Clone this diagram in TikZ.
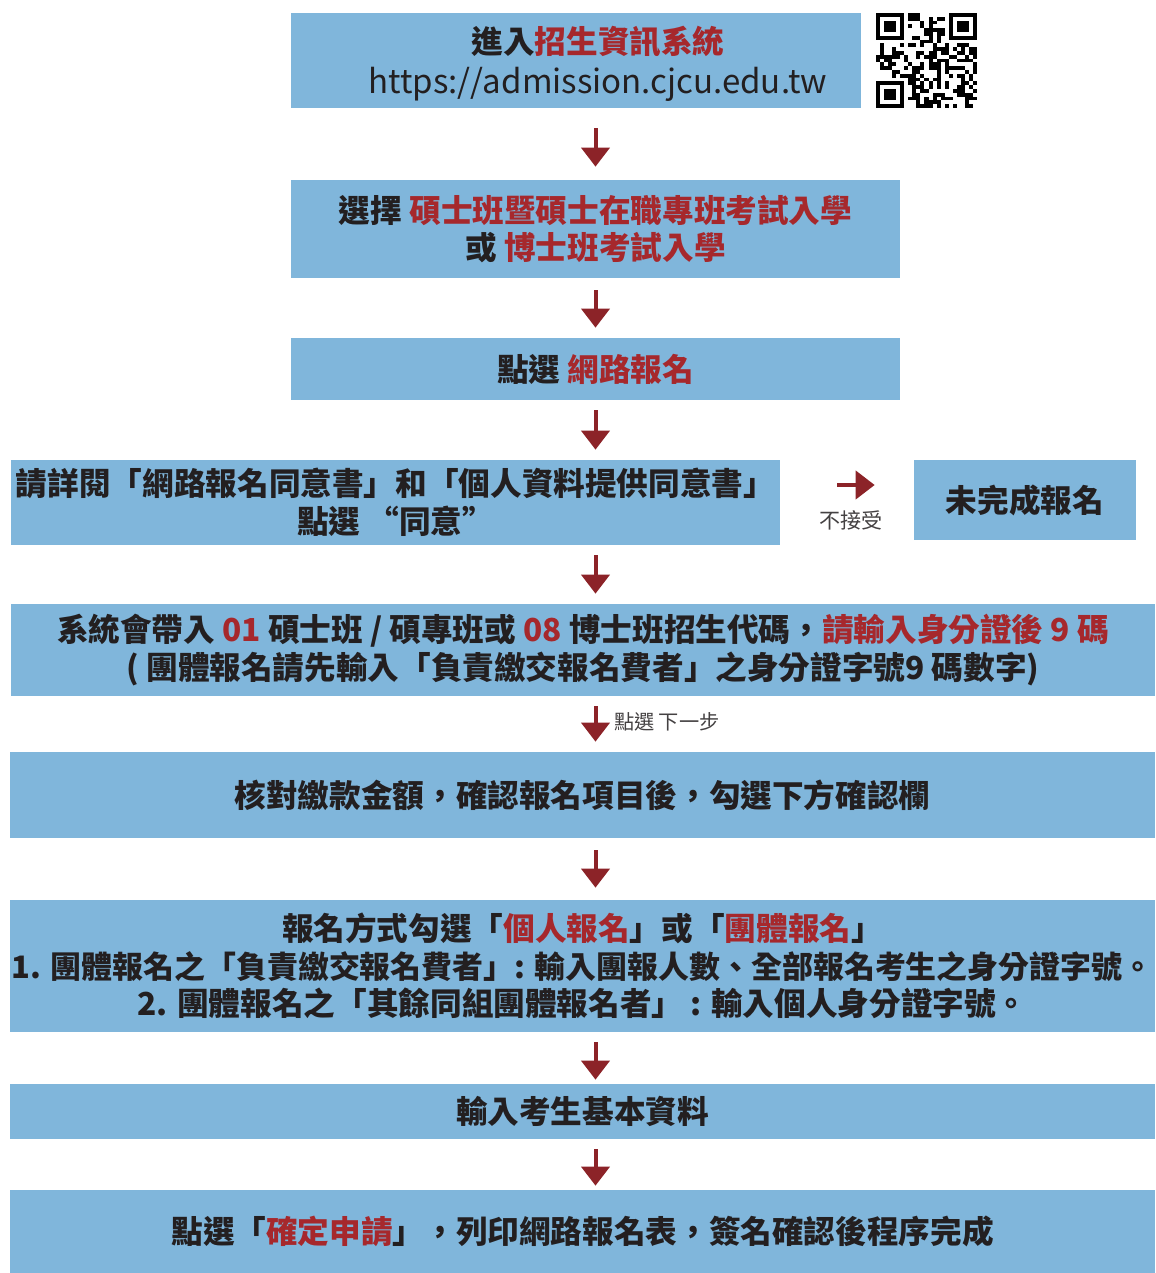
\documentclass[tikz,border=0pt]{standalone}
\usepackage{fontspec}
\setmainfont{Noto Sans CJK TC}
\usetikzlibrary{arrows.meta}

\begin{document}
\begin{tikzpicture}[x = 0.02cm, y = -0.02cm,
  box/.style = {fill = boxblue, inner sep = 0pt, align = center, text = ink, font = \bfseries\fontsize{18}{21.5}\selectfont},
  flow/.style = {draw = arrowred, line width = 0.08cm, -{Triangle[width = 0.56cm, length = 0.38cm]}, shorten <= 0.2cm, shorten >= 0.2cm},
  note/.style = {text = ink!85, inner sep = 0pt, font = \fontsize{12}{14}\selectfont}]
\definecolor{boxblue}{RGB}{128,182,219}
\definecolor{ink}{RGB}{35,31,32}
\definecolor{accent}{RGB}{166,40,44}
\definecolor{arrowred}{RGB}{140,35,40}
\def\hl#1{\textcolor{accent}{#1}}

\useasboundingbox (0, 0) rectangle (1155, 1273);

\node[box, minimum width = 11.4cm, minimum height = 1.9cm] (enter) at (576, 60.5) {};
\node[box, fill = none] (entertext) at (598, 64)
  {進入\hl{招生資訊系統}\\[1.5pt]{\mdseries\fontsize{18.8}{21.5}\selectfont https://admission.cjcu.edu.tw}};
\node[box, minimum width = 12.18cm, minimum height = 1.96cm] (choose) at (595.5, 229)
  {選擇 \hl{碩士班暨碩士在職專班考試入學}\\或 \hl{博士班考試入學}};
\node[box, minimum width = 12.18cm, minimum height = 1.24cm] (click) at (595.5, 369)
  {點選 \hl{網路報名}};
\node[box, minimum width = 15.38cm, minimum height = 1.7cm] (agree) at (395.5, 502.5)
  {請詳閱「網路報名同意書」和「個人資料提供同意書」\\點選 “同意”};
\node[box, minimum width = 4.44cm, minimum height = 1.6cm] (reject) at (1025, 500)
  {未完成報名};
\node[box, minimum width = 22.88cm, minimum height = 1.84cm] (code) at (583, 650)
  {系統會帶入 \hl{01} 碩士班 / 碩專班或 \hl{08} 博士班招生代碼，\hl{請輸入身分證後 9 碼}\\( 團體報名請先輸入「負責繳交報名費者」之身分證字號9 碼數字)};
\node[box, minimum width = 22.9cm, minimum height = 1.72cm] (check) at (582.5, 795)
  {核對繳款金額，確認報名項目後，勾選下方確認欄};
\node[box, minimum width = 22.9cm, minimum height = 2.64cm] (mode) at (582.5, 966)
  {報名方式勾選「\hl{個人報名}」或「\hl{團體報名}」\\
   {\fontsize{17.6}{21.5}\selectfont 1. 團體報名之「負責繳交報名費者」: 輸入團報人數、全部報名考生之身分證字號。}\\
   2. 團體報名之「其餘同組團體報名者」 : 輸入個人身分證字號。};
\node[box, minimum width = 22.9cm, minimum height = 1.1cm] (basic) at (582.5, 1111.5)
  {輸入考生基本資料};
\node[box, minimum width = 22.9cm, minimum height = 1.66cm] (confirm) at (582.5, 1231.5)
  {\raisebox{-3pt}{點選「\hl{確定申請}」，列印網路報名表，簽名確認後程序完成}};

\begin{scope}[shift = {(876, 13)}, x = 0.0808cm, y = -0.076cm]
\pgfmathsetseed{42}
\foreach \i in {0,...,24} \foreach \j in {0,...,24} {
  \pgfmathtruncatemacro\dark{(rnd < 0.5) && !((\i < 8 && \j < 8) || (\i > 16 && \j < 8) || (\i < 8 && \j > 16))}
  \ifnum\dark=1 \fill (\i, \j) rectangle ++(1, 1); \fi
}
\foreach \fx/\fy in {0/0, 18/0, 0/18} {
  \fill (\fx, \fy) rectangle ++(7, 7);
  \fill[white] (\fx + 1, \fy + 1) rectangle ++(5, 5);
  \fill (\fx + 2, \fy + 2) rectangle ++(3, 3);
}
\end{scope}

\draw[flow, shorten <= 0.4cm, shorten >= 0.26cm] (enter.south -| choose.north) -- (choose.north);
\draw[flow, shorten <= 0.24cm] (choose.south) -- (click.north);
\draw[flow] (click.south) -- (agree.north -| click.south);
\draw[flow] (agree.south -| click.south) -- (code.north -| click.south);
\draw[flow] (code.south -| click.south) -- (check.north -| click.south)
  node[note, pos = 0.46, anchor = west, xshift = 0.33cm, font = \fontsize{11.5}{14}\selectfont] {點選 下一步};
\draw[flow, shorten <= 0.24cm, shorten >= 0.24cm] (check.south -| click.south) -- (mode.north -| click.south);
\draw[flow, shorten >= 0.08cm] (mode.south -| click.south) -- (basic.north -| click.south);
\draw[flow, shorten >= 0.08cm] (basic.south -| click.south) -- (confirm.north -| click.south);
\draw[flow, shorten <= 1.14cm, shorten >= 0.78cm] ([yshift = 0.35cm]agree.east) -- ([yshift = 0.35cm]agree.east -| reject.west)
  node[note, pos = 0.53, yshift = -0.7cm] {不接受};
\end{tikzpicture}
\end{document}
